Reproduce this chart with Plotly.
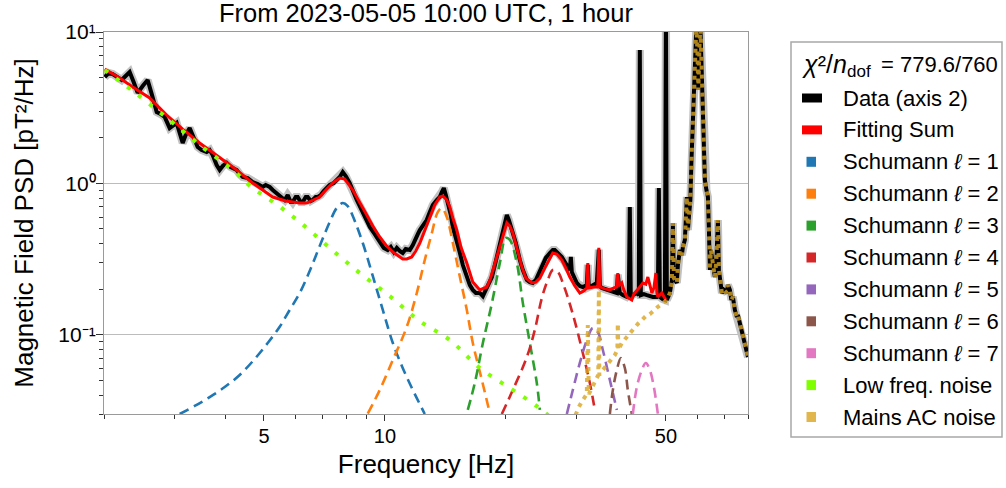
import numpy as np
import plotly.graph_objects as go

# ---------------- data ----------------
data_freq = [2.008, 2.055, 2.102, 2.150, 2.213, 2.264, 2.317, 2.370, 2.426, 2.496, 2.568, 2.628,
             2.705, 2.768, 2.831, 2.913, 3.032, 3.139, 3.193, 3.267, 3.343, 3.420, 3.499, 3.601,
             3.664, 3.727, 3.813, 3.880, 3.948, 4.039, 4.133, 4.277, 4.351, 4.427, 4.555, 4.687,
             4.825, 4.964, 5.050, 5.167, 5.257, 5.378, 5.503, 5.630, 5.728, 5.827, 5.895, 5.997,
             6.066, 6.171, 6.244, 6.352, 6.424, 6.535, 6.610, 6.724, 6.803, 6.920, 7.040, 7.161,
             7.287, 7.456, 7.585, 7.718, 7.852, 7.988, 8.172, 8.315, 8.508, 8.656, 8.806, 8.958,
             9.166, 9.432, 9.705, 9.932, 10.16, 10.34, 10.52, 10.70, 10.88, 11.07, 11.26, 11.53,
             11.73, 11.86, 12.07, 12.21, 12.42, 12.70, 12.93, 13.15, 13.45, 13.69, 13.85, 14.01,
             14.17, 14.34, 14.58, 14.75, 15.09, 15.36, 15.62, 15.98, 16.26, 16.54, 16.83, 17.22,
             17.52, 17.72, 18.03, 18.45, 18.77, 19.09, 19.31, 19.64, 19.87, 20.10, 20.33, 20.57,
             20.80, 21.16, 21.40, 21.65, 22.03, 22.54, 22.93, 23.32, 23.73, 24.28, 24.70, 25.12,
             25.71, 26.15, 26.45, 26.92, 27.54, 28.02, 28.50, 28.83, 29.00, 29.16, 30.01, 30.53,
             31.06, 31.78, 31.96, 32.14, 32.33, 32.89, 33.65, 34.04, 34.23, 34.62, 35.64, 36.26,
             36.89, 37.74, 37.95, 38.17, 38.39, 39.06, 39.96, 40.42, 40.65, 40.88, 41.60, 42.32,
             42.80, 43.05, 43.30, 44.06, 44.82, 45.60, 46.40, 47.47, 47.74, 48.01, 48.29, 49.13,
             49.69, 50.00, 50.26, 51.14, 51.73, 52.02, 52.32, 53.22, 53.54, 54.16, 54.78, 55.09,
             55.72, 56.36, 56.70, 57.02, 57.51, 57.84, 58.17, 58.51, 58.84, 59.18, 59.52, 59.86,
             60.21, 60.55, 60.90, 61.25, 61.60, 61.96, 62.50, 63.04, 63.59, 63.95, 64.31, 64.68,
             65.42, 65.80, 66.18, 66.75, 67.33, 67.71, 68.10, 68.89, 69.68, 70.88, 71.29, 72.11,
             72.73, 73.36, 74.20, 75.06, 75.49, 76.36, 77.02, 77.70, 78.57, 79.48, 80.0]
data_psd = [5.04, 5.36, 5.28, 5.04, 4.82, 5.12, 5.44, 4.68, 3.96, 4.40, 4.82, 3.90,
            2.96, 2.87, 2.75, 2.32, 2.51, 1.85, 2.09, 2.32, 1.995, 1.739, 1.662, 1.612,
            1.662, 1.54, 1.323, 1.226, 1.303, 1.364, 1.283, 1.226, 1.153, 1.102, 1.085, 1.021,
            0.991, 0.947, 0.976, 0.947, 0.905, 0.864, 0.813, 0.777, 0.838, 0.754, 0.754, 0.813,
            0.813, 0.754, 0.754, 0.813, 0.813, 0.765, 0.777, 0.813, 0.813, 0.838, 0.891, 0.932,
            0.976, 1.006, 1.053, 1.102, 1.189, 1.119, 1.006, 0.891, 0.777, 0.709, 0.638, 0.573,
            0.515, 0.463, 0.410, 0.375, 0.363, 0.380, 0.352, 0.375, 0.358, 0.347, 0.369, 0.363,
            0.392, 0.423, 0.463, 0.492, 0.523, 0.573, 0.647, 0.720, 0.777, 0.813, 0.877, 0.932,
            0.838, 0.742, 0.618, 0.515, 0.423, 0.347, 0.289, 0.241, 0.213, 0.198, 0.189, 0.189,
            0.180, 0.192, 0.210, 0.241, 0.289, 0.347, 0.380, 0.463, 0.539, 0.618, 0.573, 0.508,
            0.470, 0.404, 0.352, 0.312, 0.268, 0.230, 0.223, 0.220, 0.230, 0.260, 0.294, 0.322,
            0.347, 0.363, 0.363, 0.347, 0.327, 0.303, 0.276, 0.268, 0.327, 0.260, 0.220, 0.210,
            0.207, 0.213, 0.290, 0.207, 0.207, 0.213, 0.220, 0.365, 0.210, 0.204, 0.198, 0.195,
            0.192, 0.189, 0.250, 0.192, 0.189, 0.183, 0.178, 0.183, 0.699, 0.180, 0.186, 0.189,
            0.183, 7.60, 0.183, 0.186, 0.183, 0.180, 0.178, 0.178, 0.180, 0.932, 0.178, 0.172,
            0.170, 15.0, 0.170, 0.189, 0.230, 0.548, 0.237, 0.220, 0.289, 0.363, 0.337, 0.380,
            0.423, 0.813, 0.492, 0.600, 0.777, 1.364, 2.25, 3.73, 6.53, 9.85, 11.1, 7.60,
            4.14, 7.60, 11.1, 6.53, 3.56, 2.25, 1.053, 0.905, 0.813, 0.492, 0.268, 0.363,
            0.298, 0.268, 0.241, 0.312, 0.573, 0.268, 0.230, 0.189, 0.198, 0.189, 0.213, 0.198,
            0.170, 0.178, 0.146, 0.131, 0.135, 0.119, 0.1076, 0.0967, 0.0856, 0.0759, 0.0713]

fit_freq = [2.008, 2.188, 2.357, 2.598, 2.864, 3.139, 3.459, 3.792, 4.180, 4.687, 4.964, 5.257,
            5.662, 6.136, 6.389, 6.610, 6.881, 7.161, 7.414, 7.718, 7.942, 8.315, 8.656, 9.009,
            9.325, 9.705, 10.05, 10.46, 11.07, 11.33, 11.66, 11.93, 12.21, 12.56, 12.93, 13.30,
            13.69, 13.93, 14.25, 14.50, 14.75, 15.09, 15.45, 15.98, 16.54, 17.22, 17.92, 18.24,
            18.56, 18.99, 19.53, 19.87, 20.10, 20.45, 20.80, 21.28, 21.90, 22.41, 23.19, 23.73,
            24.28, 24.98, 25.56, 26.15, 26.75, 27.54, 28.18, 28.83, 29.67, 30.53, 31.24, 31.78,
            31.96, 32.14, 33.08, 33.84, 34.04, 34.23, 35.23, 36.26, 37.10, 37.74, 37.95, 38.17,
            38.83, 39.28, 39.96, 41.12, 41.60, 42.32, 43.05, 43.81, 44.56, 45.08, 46.12, 46.66,
            47.20, 47.47, 47.74, 48.85, 49.41, 49.97]
fit_psd = [5.69, 4.97, 4.33, 3.67, 2.83, 2.28, 1.85, 1.54, 1.283, 1.006, 0.905, 0.813,
           0.765, 0.742, 0.742, 0.777, 0.813, 0.918, 1.006, 1.085, 1.069, 0.905, 0.754, 0.618,
           0.523, 0.443, 0.392, 0.352, 0.317, 0.317, 0.327, 0.358, 0.404, 0.492, 0.600, 0.720,
           0.813, 0.826, 0.777, 0.699, 0.591, 0.492, 0.380, 0.298, 0.223, 0.198, 0.207, 0.230,
           0.268, 0.332, 0.423, 0.508, 0.548, 0.523, 0.470, 0.375, 0.281, 0.237, 0.220, 0.223,
           0.237, 0.276, 0.312, 0.347, 0.342, 0.312, 0.276, 0.241, 0.210, 0.189, 0.195, 0.204,
           0.298, 0.204, 0.207, 0.207, 0.375, 0.207, 0.201, 0.198, 0.204, 0.207, 0.256, 0.210,
           0.220, 0.198, 0.178, 0.170, 0.186, 0.198, 0.207, 0.220, 0.216, 0.241, 0.189, 0.204,
           0.256, 0.192, 0.178, 0.189, 0.178, 0.170]

s1_freq = [3.085, 3.362, 3.664, 3.993, 4.351, 4.741, 5.108, 5.472, 5.794, 6.136, 6.498, 6.881,
           7.287, 7.585, 7.852, 8.079, 8.315, 8.806, 9.325, 9.876, 10.46, 11.07, 11.73, 12.56]
s1_psd = [0.0300, 0.0339, 0.0388, 0.0452, 0.0543, 0.0692, 0.0883, 0.113, 0.146, 0.189, 0.264, 0.386,
          0.556, 0.688, 0.742, 0.709, 0.609, 0.404, 0.245, 0.146, 0.0883, 0.0604, 0.0432, 0.0300]
s2_freq = [9.061, 9.705, 10.46, 11.33, 12.00, 12.56, 13.08, 13.53, 13.85, 14.25, 14.75, 15.36,
           15.98, 16.54, 17.42, 18.24]
s2_psd = [0.0302, 0.0432, 0.0682, 0.113, 0.189, 0.312, 0.470, 0.647, 0.688, 0.600, 0.404, 0.241,
          0.146, 0.0883, 0.0503, 0.0302]
s3_freq = [16.07, 16.73, 17.52, 18.45, 19.31, 19.98, 20.45, 21.28, 22.03, 22.93, 23.86, 24.28]
s3_psd = [0.0319, 0.0481, 0.0883, 0.162, 0.298, 0.436, 0.423, 0.298, 0.162, 0.0883, 0.0481, 0.0319]
s4_freq = [19.53, 20.80, 22.54, 23.59, 24.56, 25.41, 26.15, 26.92, 27.70, 29.33, 31.06, 32.33, 33.27]
s4_psd = [0.0300, 0.0432, 0.0713, 0.1076, 0.175, 0.230, 0.268, 0.260, 0.220, 0.137, 0.0759, 0.0481, 0.0319]
s5_freq = [28.34, 29.33, 30.53, 31.78, 32.89, 33.84, 34.83, 36.26, 37.74]
s5_psd = [0.0300, 0.0432, 0.0652, 0.0924, 0.111, 0.1044, 0.0794, 0.0503, 0.0319]
s6_freq = [36.26, 36.89, 37.74, 38.61, 39.51, 40.19, 41.12]
s6_psd = [0.0300, 0.0432, 0.0586, 0.0703, 0.0604, 0.0432, 0.0300]
s7_freq = [41.36, 42.32, 43.55, 44.56, 45.60, 46.66, 47.74]
s7_psd = [0.0300, 0.0452, 0.0586, 0.0652, 0.0586, 0.0452, 0.0300]

low_freq = [2.008, 2.357, 2.847, 3.459, 4.180, 4.687, 5.317, 6.136, 7.287, 8.656, 10.28, 12.21,
            14.50, 17.22, 20.45, 24.00, 27.23]
low_psd = [5.61, 4.08, 2.75, 1.793, 1.226, 0.932, 0.742, 0.556, 0.375, 0.256, 0.180, 0.1231,
           0.0924, 0.0604, 0.0445, 0.0334, 0.0252]

# mains noise below 50 Hz; above 50 Hz it follows the measured spectrum
mains_low_freq = [29.20, 29.84, 30.36, 31.06, 31.78, 31.96, 32.14, 32.70, 33.46, 33.94, 34.04, 34.14,
                  34.83, 35.64, 36.47, 37.31, 37.85, 37.95, 38.06, 38.83, 39.74, 40.65, 41.60, 42.56,
                  43.55, 44.56, 45.60, 46.66, 47.74, 48.85, 49.97]
mains_low_psd = [0.0260, 0.0300, 0.0334, 0.0371, 0.0406, 0.116, 0.0406, 0.0445, 0.0496, 0.0543, 0.198, 0.0543,
                 0.0586, 0.0632, 0.0682, 0.0735, 0.0794, 0.119, 0.0794, 0.0883, 0.0952, 0.1013, 0.111, 0.118,
                 0.125, 0.133, 0.137, 0.146, 0.153, 0.160, 0.167]

x_tickvals = [5, 10, 50]
x_ticktext = ["5", "10", "50"]
y_tickvals = [0.1, 1, 10]
y_ticktext = ["10⁻¹", "10⁰", "10¹"]
chi2_head = "<i>χ</i>²/<i>n</i>"
chi2_sub = "dof"
chi2_tail = "= 779.6/760"

schumann = [
    ("Schumann <i>ℓ</i> = 1", "#1f77b4", s1_freq, s1_psd),
    ("Schumann <i>ℓ</i> = 2", "#ff7f0e", s2_freq, s2_psd),
    ("Schumann <i>ℓ</i> = 3", "#2ca02c", s3_freq, s3_psd),
    ("Schumann <i>ℓ</i> = 4", "#d62728", s4_freq, s4_psd),
    ("Schumann <i>ℓ</i> = 5", "#9467bd", s5_freq, s5_psd),
    ("Schumann <i>ℓ</i> = 6", "#8c564b", s6_freq, s6_psd),
    ("Schumann <i>ℓ</i> = 7", "#e377c2", s7_freq, s7_psd),
]
LOW_COLOR = "#7fff00"
MAINS_COLOR = "rgba(218,165,32,0.8)"

mains_freq = mains_low_freq + [f for f in data_freq if f > 50.1]
mains_psd = mains_low_psd + [p for f, p in zip(data_freq, data_psd) if f > 50.1]

FONT = "Liberation Sans, Arial, Helvetica, sans-serif"

fig = go.Figure()
fig.add_trace(go.Scatter(x=data_freq, y=data_psd, mode="lines",
                         line=dict(color="#c2c2c2", width=8), hoverinfo="skip", showlegend=False))
fig.add_trace(go.Scatter(x=data_freq, y=data_psd, mode="lines", name="Data (axis 2)",
                         line=dict(color="black", width=4), showlegend=False))
fig.add_trace(go.Scatter(x=fit_freq, y=fit_psd, mode="lines", name="Fitting Sum",
                         line=dict(color="#ff0000", width=3), showlegend=False))
for name, col, fx, fy in schumann:
    fig.add_trace(go.Scatter(x=fx, y=fy, mode="lines", name=name, showlegend=False,
                             line=dict(color=col, width=2.6, dash="10px,6px", shape="spline", smoothing=1.0)))
fig.add_trace(go.Scatter(x=low_freq, y=low_psd, mode="lines", name="Low freq. noise", showlegend=False,
                         line=dict(color=LOW_COLOR, width=4, dash="4px,10px", shape="spline")))
fig.add_trace(go.Scatter(x=mains_freq, y=mains_psd, mode="lines", name="Mains AC noise", showlegend=False,
                         line=dict(color=MAINS_COLOR, width=4, dash="4px,5px")))

# ---------------- layout ----------------
L, R, T, B = 104, 258, 32, 74
W, H = 1006, 488
PW, PH = W - L - R, H - T - B


def xp(px):
    return (px - L) / PW


def yp(py):
    return (H - B - py) / PH


AX = dict(showline=True, linecolor="#9a9a9a", linewidth=1.2, mirror=True, ticks="outside",
          tickcolor="#333333", tickwidth=1, type="log", zeroline=False)

fig.update_layout(
    width=W, height=H,
    margin=dict(l=L, r=R, t=T, b=B, autoexpand=False),
    paper_bgcolor="white", plot_bgcolor="white",
    font=dict(family=FONT, color="black"),
    title=dict(text="From 2023-05-05 10:00 UTC, 1 hour", x=0.5, xref="paper", xanchor="center",
               y=1 - 4 / H, yref="container", yanchor="top", font=dict(size=25.5, family=FONT)),
    xaxis=dict(AX, range=[np.log10(2), np.log10(80)], tickvals=x_tickvals, ticktext=x_ticktext,
               ticklen=6, showgrid=False, tickfont=dict(size=20), ticklabelstandoff=-2,
               title=dict(text="Frequency [Hz]", font=dict(size=26), standoff=8),
               minor=dict(tickvals=[2, 3, 4, 6, 7, 8, 9, 20, 30, 40, 60, 70, 80], ticks="outside",
                          ticklen=4, tickcolor="#333333", showgrid=False)),
    yaxis=dict(AX, range=[np.log10(0.03), 1], tickvals=y_tickvals, ticktext=y_ticktext,
               ticklen=7, showgrid=True, gridcolor="#bcbcbc", gridwidth=1, tickfont=dict(size=21),
               ticklabelstandoff=-4,
               title=dict(text="Magnetic Field PSD [pT²/Hz]", font=dict(size=26), standoff=17),
               minor=dict(tickvals=[0.03, 0.04, 0.05, 0.06, 0.07, 0.08, 0.09,
                                    0.2, 0.3, 0.4, 0.5, 0.6, 0.7, 0.8, 0.9,
                                    2, 3, 4, 5, 6, 7, 8, 9],
                          ticks="outside", ticklen=4, tickcolor="#333333", showgrid=False)),
)

shapes = []
# vertical major grid line at 10 Hz (log axis -> log10 units)
shapes.append(dict(type="line", xref="x", yref="paper", x0=1, x1=1, y0=0, y1=1, layer="below",
                   line=dict(color="#bcbcbc", width=1)))
# legend frame
shapes.append(dict(type="rect", xref="paper", yref="paper", x0=xp(791), x1=xp(1002), y0=yp(437), y1=yp(42),
                   fillcolor="white", line=dict(color="#a8a8a8", width=1.5), layer="above"))

annotations = []
TXT_X = xp(841)
LEG_FS = 22
# legend header: chi^2 / n_dof = ...
annotations.append(dict(xref="paper", yref="paper", x=xp(800), y=yp(64), xanchor="left", yanchor="middle",
                        text=chi2_head, showarrow=False, font=dict(size=25, family=FONT)))
annotations.append(dict(xref="paper", yref="paper", x=xp(845), y=yp(71), xanchor="left", yanchor="middle",
                        text=chi2_sub, showarrow=False, font=dict(size=17, family=FONT)))
annotations.append(dict(xref="paper", yref="paper", x=xp(1000), y=yp(65), xanchor="right", yanchor="middle",
                        text=chi2_tail, showarrow=False, font=dict(size=LEG_FS, family=FONT)))

entries = [("Data (axis 2)", "black", "bar"), ("Fitting Sum", "#ff0000", "bar")]
entries += [(n, c, "sq") for n, c, _, _ in schumann]
entries += [("Low freq. noise", LOW_COLOR, "sq"), ("Mains AC noise", MAINS_COLOR, "sq")]
y0 = 98.0
step = 31.9
for i, (name, col, kind) in enumerate(entries):
    cy = y0 + i * step
    if kind == "bar":
        shapes.append(dict(type="rect", xref="paper", yref="paper", x0=xp(802), x1=xp(822),
                           y0=yp(cy + 4.5), y1=yp(cy - 4.5), fillcolor=col, line=dict(width=0), layer="above"))
    else:
        shapes.append(dict(type="rect", xref="paper", yref="paper", x0=xp(806.5), x1=xp(816),
                           y0=yp(cy + 5), y1=yp(cy - 5), fillcolor=col, line=dict(width=0), layer="above"))
    annotations.append(dict(xref="paper", yref="paper", x=TXT_X, y=yp(cy), xanchor="left", yanchor="middle",
                            text=name, showarrow=False, font=dict(size=LEG_FS, family=FONT)))

fig.update_layout(shapes=shapes, annotations=annotations)

fig.write_html("out.html", config={"displayModeBar": False},
               post_script="document.body.style.margin='0';")
